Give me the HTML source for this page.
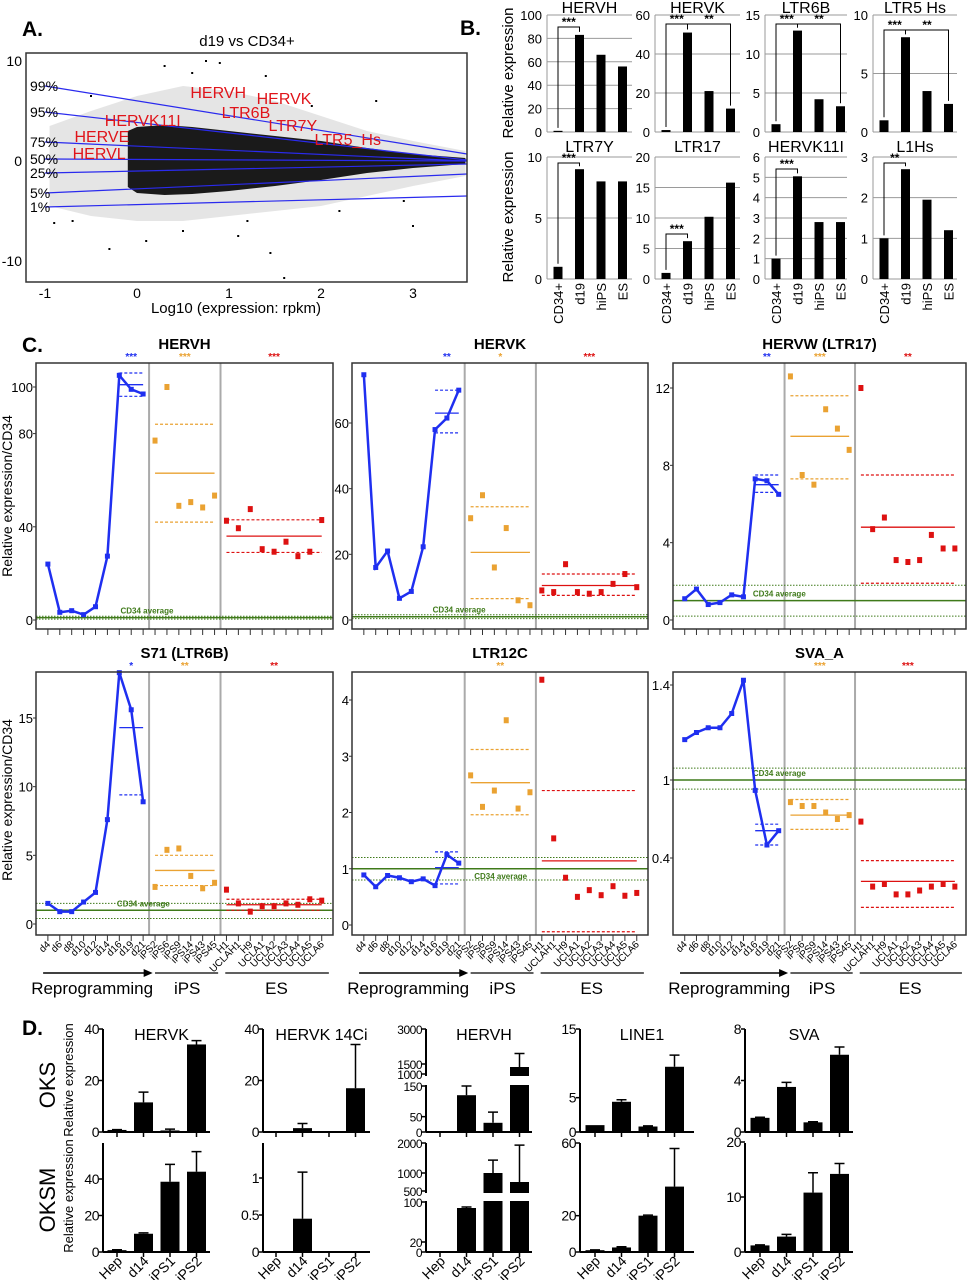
<!DOCTYPE html>
<html><head><meta charset="utf-8">
<style>
html,body{margin:0;padding:0;background:#fff;}
svg{display:block;font-family:"Liberation Sans",Arial,sans-serif;}
</style></head>
<body>
<svg id="fig" width="968" height="1280" viewBox="0 0 968 1280" xmlns="http://www.w3.org/2000/svg">
<rect x="0" y="0" width="968" height="1280" fill="#fff"/>
<text x="22" y="36" font-size="21" font-weight="bold">A.</text>
<text x="460" y="35" font-size="21" font-weight="bold">B.</text>
<text x="22" y="352" font-size="21" font-weight="bold">C.</text>
<text x="22" y="1035" font-size="21" font-weight="bold">D.</text>
</svg>
<script>
// ---------- Panel A data ----------
const aCoreX=[-0.1,0,0.3,0.6,1,1.5,2,2.5,3,3.57];
const aCoreHi=[3,3.4,3.6,3.4,3.0,2.5,2.0,1.3,0.7,0.3];
const aCoreLo=[-2.6,-3.2,-3.4,-3.3,-3.0,-2.5,-1.9,-1.2,-0.7,-0.3];
const aOutX=[-0.95,-0.5,0,0.5,1,1.5,2,2.5,3,3.57];
const aOutHi=[3.5,5,6.5,7.5,7,6,4.5,3,2,1];
const aOutLo=[-4.5,-5.5,-6,-6,-5.5,-5,-4.5,-3.5,-2.5,-1.5];
const aPctNames=['99%','95%','75%','50%','25%','5%','1%'];
const aPctLeft=[7.5,4.9,1.9,0.2,-1.2,-3.2,-4.6];
const aPctRight=[0.7,0.1,0,0,-0.3,-1.3,-3.5];
const aOutlierX=[0.75,0.9,0.3,1.6,-0.3,1.45,1.2,2.6,3,-0.9,0.1,1.4,-0.5,2.2,0.5,1.9,-0.7,2.9,0.6,1.1];
const aOutlierY=[10,9.8,9.5,-11.7,-8.8,-9.2,-6,6,-6.5,-6.2,-8,8.5,6.5,-5,-7,5.5,-6,-4,8.8,-7.5];
const aLabNames=['HERVH','HERVK','LTR6B','HERVK11I','LTR7Y','HERVE','LTR5_Hs','HERVL'];
const aLabX=[0.58,1.3,0.92,-0.35,1.43,-0.68,1.93,-0.7];
const aLabY=[6.9,6.3,4.9,4.1,3.6,2.5,2.2,0.8];
const aXTicks=[-1,0,1,2,3];
const aYTicks=[10,0,-10];

// ---------- Panel B data ----------
const bCats=['CD34+','d19','hiPS','ES'];
const bTitles=['HERVH','HERVK','LTR6B','LTR5 Hs','LTR7Y','LTR17','HERVK11I','L1Hs'];
const bV0=[1,83,66,56];
const bV1=[1,51,21,12];
const bV2=[1,13,4.2,3.3];
const bV3=[1,8.1,3.5,2.4];
const bV4=[1,9,8,8];
const bV5=[1,6.2,10.2,15.8];
const bV6=[1,5.05,2.8,2.8];
const bV7=[1,2.7,1.95,1.2];
const bTk0=[0,20,40,60,80,100];
const bTk1=[0,20,40,60];
const bTk2=[0,5,10,15];
const bTk3=[0,5,10];
const bTk4=[0,5,10];
const bTk5=[0,5,10,15,20];
const bTk6=[0,1,2,3,4,5,6];
const bTk7=[0,1,2,3];

// ---------- Panel C data ----------
const cLabels=['d4','d6','d8','d10','d12','d14','d16','d19','d21','iPS2','iPS6','iPS9','iPS14','iPS43','iPS45','H1','UCLAH1','H9','UCLA1','UCLA2','UCLA3','UCLA4','UCLA5','UCLA6'];
const cTitles=['HERVH','HERVK','HERVW (LTR17)','S71 (LTR6B)','LTR12C','SVA_A'];
const cRep0=[24,3.3,4,2.3,5.7,27.4,105,99,97];
const cIps0=[77,100,49,50.6,48.3,53.4];
const cEs0=[42.6,39.4,47.6,30.4,29.3,33.6,27.4,29.3,42.9];
const cRep1=[74.7,16,21,6.6,8.7,22.3,58,61.5,70];
const cIps1=[31,38,16,28,6,4.5];
const cEs1=[9,8.5,17,8.5,8,8.5,11,14,10];
const cRep2=[1.1,1.6,0.8,0.9,1.3,1.2,7.3,7.2,6.5];
const cIps2=[12.6,7.5,7,10.9,9.9,8.8];
const cEs2=[12,4.7,5.3,3.1,3,3.1,4.4,3.7,3.7];
const cRep3=[1.5,0.9,0.9,1.6,2.3,7.6,18.3,15.6,8.9];
const cIps3=[2.7,5.4,5.5,3.5,2.6,3.0];
const cEs3=[2.5,1.5,0.9,1.3,1.3,1.5,1.4,1.8,1.7];
const cRep4=[0.89,0.68,0.88,0.84,0.77,0.82,0.7,1.25,1.1];
const cIps4=[2.66,2.1,2.39,3.64,2.07,2.36];
const cEs4=[4.36,1.54,0.84,0.5,0.62,0.53,0.69,0.52,0.57];
const cRep5=[1.17,1.2,1.22,1.22,1.28,1.42,0.92,0.5,0.61];
const cIps5=[0.83,0.8,0.8,0.75,0.7,0.73];
const cEs5=[0.68,0.18,0.2,0.12,0.12,0.15,0.18,0.2,0.18];
// [mean, upper, lower]
const cRepM=[[101,106,96],[63,70,57],[7,7.5,6.6],[14.3,null,9.4],[1.02,1.3,0.73],[0.61,0.66,0.5]];
const cIpsM=[[63,84,42],[20.6,34.5,6.5],[9.5,11.6,7.3],[3.9,5,2.8],[2.53,3.12,1.96],[0.73,0.85,0.62]];
const cEsM=[[36,43,29],[10.5,14,7.5],[4.8,7.5,1.9],[1.4,1.8,1.0],[1.14,2.39,-0.12],[0.22,0.38,0.02]];
const cCd34=[[1,1.6,0.4],[1,1.6,0.4],[1,1.8,0.2],[1,1.5,0.4],[1,1.2,0.8],[1,1.05,0.93]];
const cStars=[['***','***','***'],['**','*','***'],['**','***','**'],['*','**','**'],['','**',''],['','***','***']];
const cTicks=[[0,40,80,100],[0,20,40,60],[0,4,8,12],[0,5,10,15],[0,1,2,3,4],[0.4,1,1.4]];
const cTickLab=[['0','40','80','100'],['0','20','40','60'],['0','4','8','12'],['0','5','10','15'],['0','1','2','3','4'],['0.4','1','1.4']];

// ---------- Panel D data ----------
const dCats=['Hep','d14','iPS1','iPS2'];
const dTitles=['HERVK','HERVK 14Ci','HERVH','LINE1','SVA'];
const dV0=[0.8,11.5,0.6,34];   const dE0=[0.1,4,0.5,1.5];
const dV1=[0,1.5,0,17];        const dE1=[0,1.8,0,17];
const dV2=[0,120,30,1350];     const dE2=[0,30,35,600];
const dV3=[1,4.4,0.8,9.5];     const dE3=[0,0.3,0.1,1.7];
const dV4=[1.1,3.5,0.75,6];    const dE4=[0.05,0.35,0.05,0.6];
const dW0=[1,10,38.5,44];      const dF0=[0.2,0.5,9.5,11];
const dW1=[0,0.45,0,0];        const dF1=[0,0.63,0,0];
const dW2=[0,88,1000,750];     const dF2=[0,2,430,1180];
const dW3=[1,2.5,20,36];       const dF3=[0.2,0.4,0.3,21];
const dW4=[1.2,2.8,10.8,14.2]; const dF4=[0.1,0.4,3.6,1.9];
const dTk0=[0,20,40]; const dTk1=[0,20,40]; const dTk2=[0,50,150,1000,1500,3000]; const dTk3=[0,5,15]; const dTk4=[0,4,8];
const dUk0=[0,20,40]; const dUk1=[0,0.5,1]; const dUk2=[0,20,100,500,1000,2000]; const dUk3=[0,20,60]; const dUk4=[0,10,20];

// ---------- helpers ----------
const NS='http://www.w3.org/2000/svg';
const svg=document.getElementById('fig');
function mk(tag,a,p){const e=document.createElementNS(NS,tag);for(const k in a)e.setAttribute(k,a[k]);(p||svg).appendChild(e);return e;}
function nm(e,n){return e;}
function txt(x,y,s,a,p){const e=mk('text',Object.assign({x:x,y:y},a||{}),p);e.textContent=s;return e;}
function grp(name){const g=mk('g',{});return g;}
function pw(pts){return function(v){let i=0;if(v>pts[pts.length-1][0])i=pts.length-2;else{for(i=0;i<pts.length-2;i++){if(v<=pts[i+1][0])break;}}
 const a=pts[i],b=pts[i+1];return a[1]+(v-a[0])*(b[1]-a[1])/(b[0]-a[0]);};}

// ---------- Panel A ----------
(function(){
 const g=grp('panel-a-scatter');
 const X=v=>137+92*v, Y=v=>161-10*v;
 let t=txt(247,46,'d19 vs CD34+',{'font-size':15,'text-anchor':'middle'},g);nm(t,'plot-title');
 let d='';aOutX.forEach((x,i)=>{d+=(i?'L':'M')+X(x)+','+Y(aOutHi[i]);});
 for(let i=aOutX.length-1;i>=0;i--)d+='L'+X(aOutX[i])+','+Y(aOutLo[i]);
 let e=mk('path',{d:d+'Z',fill:'#888','fill-opacity':0.22},g);nm(e,'scatter-sparse-cloud');
 d='';aCoreX.forEach((x,i)=>{d+=(i?'L':'M')+X(x)+','+Y(aCoreHi[i]);});
 for(let i=aCoreX.length-1;i>=0;i--)d+='L'+X(aCoreX[i])+','+Y(aCoreLo[i]);
 e=mk('path',{d:d+'Z',fill:'#1a1a1a'},g);nm(e,'scatter-dense-cloud');
 aOutlierX.forEach((x,i)=>{const p=mk('rect',{x:X(x)-1,y:Y(aOutlierY[i])-1,width:2,height:2,fill:'#000'},g);
  });
 aPctNames.forEach((n,i)=>{const l=mk('line',{x1:X(-1),y1:Y(aPctLeft[i]),x2:467,y2:Y(aPctRight[i]),stroke:'#2a2aee','stroke-width':1.2},g);
  
  const tt=txt(30,Y(aPctLeft[i])+5,n,{'font-size':14},g);
  });
 aLabNames.forEach((n,i)=>{const tt=txt(X(aLabX[i]),Y(aLabY[i])+6,n,{'font-size':16,fill:'#e0141a'},g);
  });
 e=mk('rect',{x:26,y:53,width:441,height:229,fill:'none',stroke:'#333','stroke-width':1.5},g);nm(e,'plot-frame');
 aXTicks.forEach(v=>{const tt=txt(X(v),298,String(v),{'font-size':14,'text-anchor':'middle'},g);
  });
 aYTicks.forEach(v=>{const tt=txt(22,Y(v)+5,String(v),{'font-size':14,'text-anchor':'end'},g);
  });
 t=txt(236,313,'Log10 (expression: rpkm)',{'font-size':15,'text-anchor':'middle'},g);nm(t,'x-axis-title');
})();

// ---------- Panel B ----------
(function(){
 const vals=[bV0,bV1,bV2,bV3,bV4,bV5,bV6,bV7];
 const ticks=[bTk0,bTk1,bTk2,bTk3,bTk4,bTk5,bTk6,bTk7];
 const axX=[547,655,765,873], endX=[632,740,847,957];
 const rowT=[15,157], rowB=[132,279];
 const brk=[[[0,1,'***']],[[0,1,'***'],[1,3,'**']],[[0,1,'***'],[1,3,'**']],[[0,1,'***'],[1,3,'**']],[[0,1,'***']],[[0,1,'***']],[[0,1,'***']],[[0,1,'**']]];
 const brY=[27,24,24,30,163,234,169,163];
 for(let k=0;k<8;k++){
  const g=grp('bar-chart-'+bTitles[k].toLowerCase().replace(/\s/g,'-'));
  const c=k%4,r=Math.floor(k/4),tk=ticks[k],mx=tk[tk.length-1];
  const Y=v=>rowB[r]-(v/mx)*(rowB[r]-rowT[r]);
  const X=i=>axX[c]+11+i*21.5;
  tk.forEach(v=>{const l=mk('line',{x1:axX[c],x2:endX[c],y1:Y(v),y2:Y(v),stroke:'#9a9a9a','stroke-width':1},g);
   
   const tt=txt(axX[c]-5,Y(v)+5,String(v),{'font-size':13,'text-anchor':'end'},g);
   });
  let e=mk('line',{x1:axX[c],x2:axX[c],y1:rowT[r],y2:rowB[r],stroke:'#9a9a9a'},g);nm(e,'y-axis');
  vals[k].forEach((v,i)=>{const b=mk('rect',{x:X(i)-4.5,y:Y(v),width:9,height:rowB[r]-Y(v),fill:'#000'},g);
   
   if(r===1){const tt=txt(X(i)+5,283,bCats[i],{'font-size':13,'text-anchor':'end',transform:'rotate(-90 '+(X(i)+5)+' 283)'},g);
    }});
  e=txt((axX[c]+endX[c])/2,r?152:13,bTitles[k],{'font-size':16,'text-anchor':'middle'},g);nm(e,'chart-title');
  brk[k].forEach(bb=>{const xa=X(bb[0]),xb=X(bb[1]),y=brY[k];
   const p=mk('path',{d:'M'+xa+','+(Y(vals[k][bb[0]])-3)+'V'+y+'H'+xb+'V'+(Y(vals[k][bb[1]])-3),fill:'none',stroke:'#000','stroke-width':1},g);
   
   const tt=txt((xa+xb)/2,y-1,bb[2],{'font-size':12,'text-anchor':'middle','font-weight':'bold'},g);
   });
 }
 let t=txt(513,73,'Relative expression',{'font-size':15,'text-anchor':'middle',transform:'rotate(-90 513 73)'});nm(t,'y-axis-title');
 t=txt(513,217,'Relative expression',{'font-size':15,'text-anchor':'middle',transform:'rotate(-90 513 217)'});nm(t,'y-axis-title');
})();

// ---------- Panel C ----------
(function(){
 const reps=[cRep0,cRep1,cRep2,cRep3,cRep4,cRep5];
 const ipss=[cIps0,cIps1,cIps2,cIps3,cIps4,cIps5];
 const ess=[cEs0,cEs1,cEs2,cEs3,cEs4,cEs5];
 const scales=[pw([[0,620],[100,387]]),pw([[0,620],[60,423]]),pw([[0,620],[12,388]]),pw([[0,924],[15,718]]),pw([[0,925],[4,700]]),pw([[0.4,858],[1,780],[1.4,685]])];
 const bx=[36,352,673], bw=[297,296,293];
 const top=[363,672], bot=[629,935];
 const BLUE='#1f2ff0',ORG='#eaa232',RED='#dd1111',GRN='#3f7a1a';
 for(let k=0;k<6;k++){
  const g=grp('panel-c-'+cTitles[k].toLowerCase().replace(/[^a-z0-9]+/g,'-'));
  const c=k%3,r=Math.floor(k/3),Y=scales[k];
  const X=i=>bx[c]+0.04*bw[c]+i*(0.922*bw[c]/23);
  const L=bx[c],R=bx[c]+bw[c];
  let e=txt(L+bw[c]/2,top[r]-14,cTitles[k],{'font-size':15,'font-weight':'bold','text-anchor':'middle'},g);nm(e,'chart-title');
  [8.5,14.5].forEach(s=>{const l=mk('line',{x1:X(s),x2:X(s),y1:top[r],y2:bot[r],stroke:'#aaa','stroke-width':2},g);
   });
  const cd=cCd34[k];
  e=mk('line',{x1:L,x2:R,y1:Y(cd[0]),y2:Y(cd[0]),stroke:GRN,'stroke-width':1.5},g);nm(e,'cd34-average-line');
  [cd[1],cd[2]].forEach(v=>{const l=mk('line',{x1:L,x2:R,y1:Y(v),y2:Y(v),stroke:GRN,'stroke-width':1,'stroke-dasharray':'1.5,1.5'},g);
   });
  e=txt(c===0&&r===0?X(6.1):X(5.8),Y(cd[0])-4,'CD34 average',{'font-size':8,'font-weight':'bold',fill:GRN},g);
  if(k===4){e.setAttribute('x',X(9.3));e.setAttribute('y',Y(cd[0])+10);}
  nm(e,'cd34-average-label');
  function ml(m,i0,i1,col,nmx){
   const l=mk('line',{x1:X(i0),x2:X(i1),y1:Y(m[0]),y2:Y(m[0]),stroke:col,'stroke-width':1.3},g);
   
   [m[1],m[2]].forEach(v=>{if(v===null)return;const d=mk('line',{x1:X(i0),x2:X(i1),y1:Y(v),y2:Y(v),stroke:col,'stroke-width':1.2,'stroke-dasharray':'3,2'},g);
    });
  }
  ml(cRepM[k],6,8,BLUE,'reprogramming');ml(cIpsM[k],9,14,ORG,'ips');ml(cEsM[k],15,23,RED,'es');
  let d='';reps[k].forEach((v,i)=>{d+=(i?'L':'M')+X(i)+','+Y(v);});
  e=mk('path',{d:d,fill:'none',stroke:BLUE,'stroke-width':2.5},g);nm(e,'reprogramming-line');
  reps[k].forEach((v,i)=>{const p=mk('rect',{x:X(i)-2.5,y:Y(v)-2.5,width:5,height:5,fill:BLUE},g);
   });
  ipss[k].forEach((v,i)=>{const p=mk('rect',{x:X(9+i)-2.5,y:Y(v)-3,width:5,height:6,fill:ORG},g);
   });
  ess[k].forEach((v,i)=>{const p=mk('rect',{x:X(15+i)-2.5,y:Y(v)-3,width:5,height:6,fill:RED},g);
   });
  const sc=[X(7),X(11.5),X(19)],scol=[BLUE,ORG,RED];
  cStars[k].forEach((s,i)=>{if(!s)return;const tt=txt(sc[i],top[r]-3,s,{'font-size':10,'font-weight':'bold',fill:scol[i],'text-anchor':'middle'},g);
   });
  e=mk('rect',{x:L,y:top[r],width:bw[c],height:bot[r]-top[r],fill:'none',stroke:'#333','stroke-width':1.5},g);nm(e,'plot-frame');
  cTicks[k].forEach((v,i)=>{const tt=txt(L-3,Y(v)+5,cTickLab[k][i],{'font-size':13,'text-anchor':'end'},g);
   
   const tl=mk('line',{x1:L-3,x2:L,y1:Y(v),y2:Y(v),stroke:'#333'},g);
   });
  cLabels.forEach((lab,i)=>{const tl=mk('line',{x1:X(i),x2:X(i),y1:bot[r],y2:bot[r]+6,stroke:'#333'},g);
   
   if(r===1){const tt=txt(X(i)+3,bot[r]+10,lab,{'font-size':10,'text-anchor':'end',transform:'rotate(-45 '+(X(i)+3)+' '+(bot[r]+10)+')'},g);
    }});
  if(r===1){
   e=mk('line',{x1:X(-0.4),x2:X(8.3),y1:973,y2:973,stroke:'#000','stroke-width':1.5},g);nm(e,'reprogramming-arrow');
   e=mk('path',{d:'M'+X(8.8)+',973 l-9,-4 v8 z',fill:'#000'},g);nm(e,'arrow-head');
   e=mk('line',{x1:X(9),x2:X(14.3),y1:973,y2:973,stroke:'#000','stroke-width':1.2},g);nm(e,'ips-group-line');
   e=mk('line',{x1:X(14.9),x2:X(23.6),y1:973,y2:973,stroke:'#000','stroke-width':1.2},g);nm(e,'es-group-line');
   e=txt(X(-1.4),994,'Reprogramming',{'font-size':17},g);nm(e,'reprogramming-group-label');
   e=txt(X(11.7),994,'iPS',{'font-size':17,'text-anchor':'middle'},g);nm(e,'ips-group-label');
   e=txt(X(19.2),994,'ES',{'font-size':17,'text-anchor':'middle'},g);nm(e,'es-group-label');
  }
 }
 let t=txt(12,496,'Relative expression/CD34',{'font-size':14,'text-anchor':'middle',transform:'rotate(-90 12 496)'});nm(t,'y-axis-title');
 t=txt(12,800,'Relative expression/CD34',{'font-size':14,'text-anchor':'middle',transform:'rotate(-90 12 800)'});nm(t,'y-axis-title');
})();

// ---------- Panel D ----------
(function(){
 const V=[[dV0,dE0],[dV1,dE1],[dV2,dE2],[dV3,dE3],[dV4,dE4]];
 const W=[[dW0,dF0],[dW1,dF1],[dW2,dF2],[dW3,dF3],[dW4,dF4]];
 const T1=[dTk0,dTk1,dTk2,dTk3,dTk4], T2=[dUk0,dUk1,dUk2,dUk3,dUk4];
 const axX=[103,263,426,580,745], endX=[210,370,532,694,853];
 const bx0=[117,276,440,595,760];
 const s1=[pw([[0,1132],[40,1029]]),pw([[0,1132],[40,1029]]),pw([[0,1132],[150,1086],[1000,1074],[1500,1064],[3000,1029]]),pw([[0,1132],[15,1029]]),pw([[0,1132],[8,1029]])];
 const s2=[pw([[0,1252],[40,1179]]),pw([[0,1252],[1,1178]]),pw([[0,1252],[100,1202],[500,1191],[1000,1173],[2000,1143]]),pw([[0,1252],[60,1143]]),pw([[0,1252],[20,1142]])];
 const top=[1029,1143], bot=[1132,1252];
 const gaps=[[1076,1085],[1193,1201]];
 for(let r=0;r<2;r++)for(let k=0;k<5;k++){
  const g=grp('panel-d-'+(r?'oksm-':'oks-')+dTitles[k].toLowerCase().replace(/\s/g,'-'));
  const S=r?s2[k]:s1[k], D=r?W[k]:V[k], tk=r?T2[k]:T1[k];
  const X=i=>bx0[k]+i*26.5;
  if(r===0){const tt=txt((axX[k]+endX[k])/2+5,1040,dTitles[k],{'font-size':16,'text-anchor':'middle'},g);nm(tt,'chart-title');}
  let e=mk('line',{x1:axX[k],x2:axX[k],y1:top[r],y2:bot[r],stroke:'#000','stroke-width':2},g);nm(e,'y-axis');
  e=mk('line',{x1:axX[k],x2:endX[k],y1:bot[r],y2:bot[r],stroke:'#000','stroke-width':2},g);nm(e,'x-axis');
  tk.forEach(v=>{const tt=txt(axX[k]-4,S(v)+5,String(v),{'font-size':k===2?12:14,'text-anchor':'end','letter-spacing':'-0.5'},g);
   
   const tl=mk('line',{x1:axX[k]-4,x2:axX[k],y1:S(v),y2:S(v),stroke:'#000','stroke-width':1.5},g);
   });
  D[0].forEach((v,i)=>{
   const xt=mk('line',{x1:X(i),x2:X(i),y1:bot[r],y2:bot[r]+5,stroke:'#000','stroke-width':1.5},g);
   
   if(v>0){const b=mk('rect',{x:X(i)-9.5,y:S(v),width:19,height:bot[r]-S(v),fill:'#000'},g);
    }
   const er=D[1][i];
   if(er>0){const y2=S(v+er);const eb=mk('path',{d:'M'+X(i)+','+S(v)+'V'+y2+'M'+(X(i)-5)+','+y2+'H'+(X(i)+5),stroke:'#000','stroke-width':1.5,fill:'none'},g);
    }
   if(r===1){const tt=txt(X(i)+6,1262,dCats[i],{'font-size':14,'text-anchor':'end',transform:'rotate(-45 '+(X(i)+6)+' 1262)'},g);
    }
  });
  if(k===2){e=mk('rect',{x:axX[k]-2,y:gaps[r][0],width:endX[k]-axX[k]+4,height:gaps[r][1]-gaps[r][0],fill:'#fff'},g);nm(e,'axis-break');}
 }
 let t=txt(55,1085,'OKS',{'font-size':22,'text-anchor':'middle',transform:'rotate(-90 55 1085)'});nm(t,'oks-row-label');
 t=txt(55,1200,'OKSM',{'font-size':22,'text-anchor':'middle',transform:'rotate(-90 55 1200)'});nm(t,'oksm-row-label');
 t=txt(73,1080,'Relative expression',{'font-size':13,'text-anchor':'middle',transform:'rotate(-90 73 1080)'});nm(t,'y-axis-title');
 t=txt(73,1196,'Relative expression',{'font-size':13,'text-anchor':'middle',transform:'rotate(-90 73 1196)'});nm(t,'y-axis-title');
})();
</script>
</body></html>
